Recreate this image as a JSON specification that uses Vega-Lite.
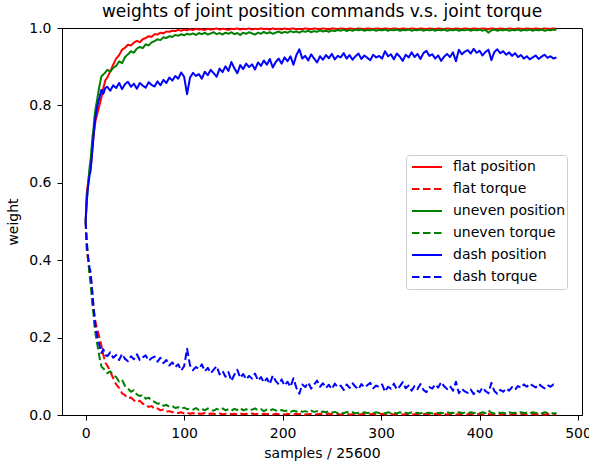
{
"$schema":"https://vega.github.io/schema/vega-lite/v6.json",
"autosize":{"type":"none"},
"width":520,"height":387,
"padding":{"left":62,"top":28,"right":7,"bottom":47},
"background":"white",
"title":{"text":"weights of joint position commands v.s. joint torque","font":"DejaVu Sans","fontSize":17,"fontWeight":"normal","color":"black","anchor":"middle","baseline":"bottom","offset":-17},
"config":{"view":{"stroke":"black","strokeWidth":1},"font":"DejaVu Sans"},
"data":{"values":[
{"x":0,"fp":0.50,"ft":0.50,"up":0.50,"ut":0.50,"dp":0.50,"dt":0.50},
{"x":1,"fp":0.57,"ft":0.43,"up":0.54,"ut":0.46,"dp":0.55,"dt":0.45},
{"x":2,"fp":0.59,"ft":0.41,"up":0.58,"ut":0.42,"dp":0.58,"dt":0.42},
{"x":3,"fp":0.61,"ft":0.39,"up":0.61,"ut":0.39,"dp":0.60,"dt":0.40},
{"x":4,"fp":0.63,"ft":0.37,"up":0.64,"ut":0.36,"dp":0.62,"dt":0.38},
{"x":5,"fp":0.64,"ft":0.36,"up":0.66,"ut":0.34,"dp":0.63,"dt":0.37},
{"x":6,"fp":0.66,"ft":0.34,"up":0.69,"ut":0.31,"dp":0.66,"dt":0.34},
{"x":7,"fp":0.69,"ft":0.31,"up":0.72,"ut":0.28,"dp":0.69,"dt":0.31},
{"x":8,"fp":0.72,"ft":0.28,"up":0.74,"ut":0.26,"dp":0.72,"dt":0.28},
{"x":9,"fp":0.74,"ft":0.26,"up":0.77,"ut":0.23,"dp":0.75,"dt":0.25},
{"x":10,"fp":0.76,"ft":0.24,"up":0.79,"ut":0.21,"dp":0.77,"dt":0.23},
{"x":12,"fp":0.78,"ft":0.22,"up":0.82,"ut":0.18,"dp":0.80,"dt":0.20},
{"x":14,"fp":0.80,"ft":0.20,"up":0.85,"ut":0.15,"dp":0.82,"dt":0.18},
{"x":16,"fp":0.82,"ft":0.18,"up":0.875,"ut":0.125,"dp":0.84,"dt":0.16},
{"x":18,"fp":0.845,"ft":0.155,"up":0.88,"ut":0.12,"dp":0.83,"dt":0.17},
{"x":20,"fp":0.865,"ft":0.135,"up":0.885,"ut":0.115,"dp":0.845,"dt":0.155},
{"x":22,"fp":0.872,"ft":0.128,"up":0.892,"ut":0.108,"dp":0.848,"dt":0.152},
{"x":25,"fp":0.888,"ft":0.112,"up":0.887,"ut":0.113,"dp":0.838,"dt":0.162},
{"x":28,"fp":0.905,"ft":0.095,"up":0.897,"ut":0.103,"dp":0.852,"dt":0.148},
{"x":31,"fp":0.921,"ft":0.079,"up":0.902,"ut":0.098,"dp":0.845,"dt":0.155},
{"x":34,"fp":0.93,"ft":0.07,"up":0.914,"ut":0.086,"dp":0.858,"dt":0.142},
{"x":37,"fp":0.944,"ft":0.056,"up":0.909,"ut":0.091,"dp":0.842,"dt":0.158},
{"x":40,"fp":0.949,"ft":0.051,"up":0.925,"ut":0.075,"dp":0.855,"dt":0.145},
{"x":43,"fp":0.957,"ft":0.043,"up":0.932,"ut":0.068,"dp":0.861,"dt":0.139},
{"x":46,"fp":0.955,"ft":0.045,"up":0.94,"ut":0.06,"dp":0.848,"dt":0.152},
{"x":49,"fp":0.962,"ft":0.038,"up":0.936,"ut":0.064,"dp":0.856,"dt":0.144},
{"x":52,"fp":0.967,"ft":0.033,"up":0.947,"ut":0.053,"dp":0.843,"dt":0.157},
{"x":55,"fp":0.963,"ft":0.037,"up":0.951,"ut":0.049,"dp":0.858,"dt":0.142},
{"x":58,"fp":0.971,"ft":0.029,"up":0.948,"ut":0.052,"dp":0.851,"dt":0.149},
{"x":61,"fp":0.974,"ft":0.026,"up":0.958,"ut":0.042,"dp":0.846,"dt":0.154},
{"x":64,"fp":0.979,"ft":0.021,"up":0.955,"ut":0.045,"dp":0.86,"dt":0.14},
{"x":67,"fp":0.977,"ft":0.023,"up":0.963,"ut":0.037,"dp":0.853,"dt":0.147},
{"x":70,"fp":0.984,"ft":0.016,"up":0.966,"ut":0.034,"dp":0.849,"dt":0.151},
{"x":73,"fp":0.983,"ft":0.017,"up":0.971,"ut":0.029,"dp":0.862,"dt":0.138},
{"x":76,"fp":0.988,"ft":0.012,"up":0.969,"ut":0.031,"dp":0.852,"dt":0.148},
{"x":79,"fp":0.986,"ft":0.014,"up":0.976,"ut":0.024,"dp":0.866,"dt":0.134},
{"x":82,"fp":0.991,"ft":0.009,"up":0.974,"ut":0.026,"dp":0.858,"dt":0.142},
{"x":85,"fp":0.99,"ft":0.01,"up":0.979,"ut":0.021,"dp":0.872,"dt":0.128},
{"x":88,"fp":0.993,"ft":0.007,"up":0.977,"ut":0.023,"dp":0.864,"dt":0.136},
{"x":91,"fp":0.992,"ft":0.008,"up":0.982,"ut":0.018,"dp":0.876,"dt":0.124},
{"x":94,"fp":0.995,"ft":0.005,"up":0.98,"ut":0.02,"dp":0.869,"dt":0.131},
{"x":97,"fp":0.993,"ft":0.007,"up":0.984,"ut":0.016,"dp":0.885,"dt":0.115},
{"x":100,"fp":0.996,"ft":0.004,"up":0.981,"ut":0.019,"dp":0.874,"dt":0.126},
{"x":103,"fp":0.994,"ft":0.006,"up":0.985,"ut":0.015,"dp":0.829,"dt":0.171},
{"x":106,"fp":0.997,"ft":0.003,"up":0.983,"ut":0.017,"dp":0.872,"dt":0.128},
{"x":109,"fp":0.995,"ft":0.005,"up":0.986,"ut":0.014,"dp":0.884,"dt":0.116},
{"x":112,"fp":0.998,"ft":0.002,"up":0.982,"ut":0.018,"dp":0.876,"dt":0.124},
{"x":115,"fp":0.996,"ft":0.004,"up":0.987,"ut":0.013,"dp":0.881,"dt":0.119},
{"x":118,"fp":0.997,"ft":0.003,"up":0.984,"ut":0.016,"dp":0.869,"dt":0.131},
{"x":121,"fp":0.995,"ft":0.005,"up":0.988,"ut":0.012,"dp":0.887,"dt":0.113},
{"x":124,"fp":0.998,"ft":0.002,"up":0.983,"ut":0.017,"dp":0.878,"dt":0.122},
{"x":127,"fp":0.996,"ft":0.004,"up":0.986,"ut":0.014,"dp":0.892,"dt":0.108},
{"x":130,"fp":0.997,"ft":0.003,"up":0.989,"ut":0.011,"dp":0.883,"dt":0.117},
{"x":133,"fp":0.999,"ft":0.001,"up":0.984,"ut":0.016,"dp":0.874,"dt":0.126},
{"x":136,"fp":0.996,"ft":0.004,"up":0.987,"ut":0.013,"dp":0.895,"dt":0.105},
{"x":139,"fp":0.998,"ft":0.002,"up":0.983,"ut":0.017,"dp":0.886,"dt":0.114},
{"x":142,"fp":0.997,"ft":0.003,"up":0.988,"ut":0.012,"dp":0.901,"dt":0.099},
{"x":145,"fp":0.995,"ft":0.005,"up":0.985,"ut":0.015,"dp":0.889,"dt":0.111},
{"x":148,"fp":0.998,"ft":0.002,"up":0.989,"ut":0.011,"dp":0.912,"dt":0.088},
{"x":151,"fp":0.997,"ft":0.003,"up":0.984,"ut":0.016,"dp":0.896,"dt":0.104},
{"x":154,"fp":0.999,"ft":0.001,"up":0.987,"ut":0.013,"dp":0.883,"dt":0.117},
{"x":157,"fp":0.996,"ft":0.004,"up":0.982,"ut":0.018,"dp":0.904,"dt":0.096},
{"x":160,"fp":0.998,"ft":0.002,"up":0.988,"ut":0.012,"dp":0.894,"dt":0.106},
{"x":163,"fp":0.997,"ft":0.003,"up":0.985,"ut":0.015,"dp":0.908,"dt":0.092},
{"x":166,"fp":0.999,"ft":0.001,"up":0.989,"ut":0.011,"dp":0.899,"dt":0.101},
{"x":169,"fp":0.996,"ft":0.004,"up":0.986,"ut":0.014,"dp":0.906,"dt":0.094},
{"x":172,"fp":0.998,"ft":0.002,"up":0.983,"ut":0.017,"dp":0.893,"dt":0.107},
{"x":175,"fp":0.997,"ft":0.003,"up":0.988,"ut":0.012,"dp":0.911,"dt":0.089},
{"x":178,"fp":0.999,"ft":0.001,"up":0.985,"ut":0.015,"dp":0.902,"dt":0.098},
{"x":181,"fp":0.997,"ft":0.003,"up":0.99,"ut":0.01,"dp":0.916,"dt":0.084},
{"x":184,"fp":0.998,"ft":0.002,"up":0.986,"ut":0.014,"dp":0.905,"dt":0.095},
{"x":187,"fp":0.996,"ft":0.004,"up":0.989,"ut":0.011,"dp":0.92,"dt":0.08},
{"x":190,"fp":0.999,"ft":0.001,"up":0.985,"ut":0.015,"dp":0.898,"dt":0.102},
{"x":193,"fp":0.997,"ft":0.003,"up":0.988,"ut":0.012,"dp":0.912,"dt":0.088},
{"x":196,"fp":0.998,"ft":0.002,"up":0.991,"ut":0.009,"dp":0.921,"dt":0.079},
{"x":199,"fp":0.996,"ft":0.004,"up":0.987,"ut":0.013,"dp":0.908,"dt":0.092},
{"x":202,"fp":0.999,"ft":0.001,"up":0.99,"ut":0.01,"dp":0.924,"dt":0.076},
{"x":205,"fp":0.997,"ft":0.003,"up":0.988,"ut":0.012,"dp":0.914,"dt":0.086},
{"x":208,"fp":0.998,"ft":0.002,"up":0.992,"ut":0.008,"dp":0.927,"dt":0.073},
{"x":211,"fp":0.999,"ft":0.001,"up":0.989,"ut":0.011,"dp":0.905,"dt":0.095},
{"x":214,"fp":0.997,"ft":0.003,"up":0.991,"ut":0.009,"dp":0.93,"dt":0.07},
{"x":217,"fp":0.998,"ft":0.002,"up":0.988,"ut":0.012,"dp":0.945,"dt":0.055},
{"x":220,"fp":0.996,"ft":0.004,"up":0.992,"ut":0.008,"dp":0.921,"dt":0.079},
{"x":223,"fp":0.999,"ft":0.001,"up":0.99,"ut":0.01,"dp":0.928,"dt":0.072},
{"x":226,"fp":0.998,"ft":0.002,"up":0.993,"ut":0.007,"dp":0.916,"dt":0.084},
{"x":229,"fp":0.997,"ft":0.003,"up":0.989,"ut":0.011,"dp":0.932,"dt":0.068},
{"x":232,"fp":0.999,"ft":0.001,"up":0.992,"ut":0.008,"dp":0.921,"dt":0.079},
{"x":235,"fp":0.998,"ft":0.002,"up":0.99,"ut":0.01,"dp":0.911,"dt":0.089},
{"x":238,"fp":0.997,"ft":0.003,"up":0.994,"ut":0.006,"dp":0.927,"dt":0.073},
{"x":241,"fp":0.999,"ft":0.001,"up":0.991,"ut":0.009,"dp":0.918,"dt":0.082},
{"x":244,"fp":0.998,"ft":0.002,"up":0.993,"ut":0.007,"dp":0.93,"dt":0.07},
{"x":247,"fp":0.996,"ft":0.004,"up":0.99,"ut":0.01,"dp":0.922,"dt":0.078},
{"x":250,"fp":0.999,"ft":0.001,"up":0.994,"ut":0.006,"dp":0.933,"dt":0.067},
{"x":253,"fp":0.998,"ft":0.002,"up":0.992,"ut":0.008,"dp":0.919,"dt":0.081},
{"x":256,"fp":0.997,"ft":0.003,"up":0.995,"ut":0.005,"dp":0.928,"dt":0.072},
{"x":259,"fp":0.999,"ft":0.001,"up":0.993,"ut":0.007,"dp":0.924,"dt":0.076},
{"x":262,"fp":0.998,"ft":0.002,"up":0.996,"ut":0.004,"dp":0.935,"dt":0.065},
{"x":265,"fp":0.997,"ft":0.003,"up":0.992,"ut":0.008,"dp":0.921,"dt":0.079},
{"x":268,"fp":0.999,"ft":0.001,"up":0.995,"ut":0.005,"dp":0.93,"dt":0.07},
{"x":271,"fp":0.998,"ft":0.002,"up":0.993,"ut":0.007,"dp":0.918,"dt":0.082},
{"x":274,"fp":0.997,"ft":0.003,"up":0.996,"ut":0.004,"dp":0.927,"dt":0.073},
{"x":277,"fp":0.999,"ft":0.001,"up":0.994,"ut":0.006,"dp":0.934,"dt":0.066},
{"x":280,"fp":0.998,"ft":0.002,"up":0.996,"ut":0.004,"dp":0.92,"dt":0.08},
{"x":283,"fp":0.997,"ft":0.003,"up":0.993,"ut":0.007,"dp":0.929,"dt":0.071},
{"x":286,"fp":0.999,"ft":0.001,"up":0.995,"ut":0.005,"dp":0.923,"dt":0.077},
{"x":289,"fp":0.998,"ft":0.002,"up":0.994,"ut":0.006,"dp":0.917,"dt":0.083},
{"x":292,"fp":0.997,"ft":0.003,"up":0.996,"ut":0.004,"dp":0.931,"dt":0.069},
{"x":295,"fp":0.999,"ft":0.001,"up":0.993,"ut":0.007,"dp":0.924,"dt":0.076},
{"x":298,"fp":0.998,"ft":0.002,"up":0.995,"ut":0.005,"dp":0.928,"dt":0.072},
{"x":301,"fp":0.997,"ft":0.003,"up":0.994,"ut":0.006,"dp":0.921,"dt":0.079},
{"x":304,"fp":0.999,"ft":0.001,"up":0.996,"ut":0.004,"dp":0.94,"dt":0.06},
{"x":307,"fp":0.998,"ft":0.002,"up":0.993,"ut":0.007,"dp":0.927,"dt":0.073},
{"x":310,"fp":0.997,"ft":0.003,"up":0.995,"ut":0.005,"dp":0.932,"dt":0.068},
{"x":313,"fp":0.999,"ft":0.001,"up":0.994,"ut":0.006,"dp":0.919,"dt":0.081},
{"x":316,"fp":0.998,"ft":0.002,"up":0.996,"ut":0.004,"dp":0.934,"dt":0.066},
{"x":319,"fp":0.997,"ft":0.003,"up":0.993,"ut":0.007,"dp":0.926,"dt":0.074},
{"x":322,"fp":0.999,"ft":0.001,"up":0.995,"ut":0.005,"dp":0.915,"dt":0.085},
{"x":325,"fp":0.998,"ft":0.002,"up":0.994,"ut":0.006,"dp":0.931,"dt":0.069},
{"x":328,"fp":0.997,"ft":0.003,"up":0.996,"ut":0.004,"dp":0.924,"dt":0.076},
{"x":331,"fp":0.999,"ft":0.001,"up":0.993,"ut":0.007,"dp":0.937,"dt":0.063},
{"x":334,"fp":0.998,"ft":0.002,"up":0.995,"ut":0.005,"dp":0.925,"dt":0.075},
{"x":337,"fp":0.997,"ft":0.003,"up":0.994,"ut":0.006,"dp":0.933,"dt":0.067},
{"x":340,"fp":0.999,"ft":0.001,"up":0.996,"ut":0.004,"dp":0.92,"dt":0.08},
{"x":343,"fp":0.998,"ft":0.002,"up":0.993,"ut":0.007,"dp":0.935,"dt":0.065},
{"x":346,"fp":0.997,"ft":0.003,"up":0.995,"ut":0.005,"dp":0.941,"dt":0.059},
{"x":349,"fp":0.999,"ft":0.001,"up":0.994,"ut":0.006,"dp":0.928,"dt":0.072},
{"x":352,"fp":0.998,"ft":0.002,"up":0.996,"ut":0.004,"dp":0.932,"dt":0.068},
{"x":355,"fp":0.997,"ft":0.003,"up":0.993,"ut":0.007,"dp":0.921,"dt":0.079},
{"x":358,"fp":0.999,"ft":0.001,"up":0.995,"ut":0.005,"dp":0.929,"dt":0.071},
{"x":361,"fp":0.998,"ft":0.002,"up":0.994,"ut":0.006,"dp":0.915,"dt":0.085},
{"x":364,"fp":0.997,"ft":0.003,"up":0.996,"ut":0.004,"dp":0.926,"dt":0.074},
{"x":367,"fp":0.999,"ft":0.001,"up":0.993,"ut":0.007,"dp":0.933,"dt":0.067},
{"x":370,"fp":0.998,"ft":0.002,"up":0.995,"ut":0.005,"dp":0.925,"dt":0.075},
{"x":373,"fp":0.997,"ft":0.003,"up":0.994,"ut":0.006,"dp":0.937,"dt":0.063},
{"x":376,"fp":0.999,"ft":0.001,"up":0.996,"ut":0.004,"dp":0.914,"dt":0.086},
{"x":379,"fp":0.998,"ft":0.002,"up":0.993,"ut":0.007,"dp":0.944,"dt":0.056},
{"x":382,"fp":0.997,"ft":0.003,"up":0.995,"ut":0.005,"dp":0.932,"dt":0.068},
{"x":385,"fp":0.999,"ft":0.001,"up":0.994,"ut":0.006,"dp":0.939,"dt":0.061},
{"x":388,"fp":0.998,"ft":0.002,"up":0.996,"ut":0.004,"dp":0.943,"dt":0.057},
{"x":391,"fp":0.997,"ft":0.003,"up":0.993,"ut":0.007,"dp":0.934,"dt":0.066},
{"x":394,"fp":0.999,"ft":0.001,"up":0.995,"ut":0.005,"dp":0.946,"dt":0.054},
{"x":397,"fp":0.998,"ft":0.002,"up":0.994,"ut":0.006,"dp":0.936,"dt":0.064},
{"x":400,"fp":0.997,"ft":0.003,"up":0.996,"ut":0.004,"dp":0.941,"dt":0.059},
{"x":403,"fp":0.999,"ft":0.001,"up":0.993,"ut":0.007,"dp":0.929,"dt":0.071},
{"x":406,"fp":0.998,"ft":0.002,"up":0.995,"ut":0.005,"dp":0.938,"dt":0.062},
{"x":409,"fp":0.997,"ft":0.003,"up":0.988,"ut":0.012,"dp":0.944,"dt":0.056},
{"x":412,"fp":0.999,"ft":0.001,"up":0.994,"ut":0.006,"dp":0.917,"dt":0.083},
{"x":415,"fp":0.998,"ft":0.002,"up":0.996,"ut":0.004,"dp":0.938,"dt":0.062},
{"x":418,"fp":0.997,"ft":0.003,"up":0.993,"ut":0.007,"dp":0.945,"dt":0.055},
{"x":421,"fp":0.999,"ft":0.001,"up":0.995,"ut":0.005,"dp":0.935,"dt":0.065},
{"x":424,"fp":0.998,"ft":0.002,"up":0.994,"ut":0.006,"dp":0.94,"dt":0.06},
{"x":427,"fp":0.997,"ft":0.003,"up":0.996,"ut":0.004,"dp":0.931,"dt":0.069},
{"x":430,"fp":0.999,"ft":0.001,"up":0.993,"ut":0.007,"dp":0.937,"dt":0.063},
{"x":433,"fp":0.998,"ft":0.002,"up":0.995,"ut":0.005,"dp":0.928,"dt":0.072},
{"x":436,"fp":0.997,"ft":0.003,"up":0.994,"ut":0.006,"dp":0.935,"dt":0.065},
{"x":439,"fp":0.999,"ft":0.001,"up":0.996,"ut":0.004,"dp":0.925,"dt":0.075},
{"x":442,"fp":0.998,"ft":0.002,"up":0.993,"ut":0.007,"dp":0.93,"dt":0.07},
{"x":445,"fp":0.997,"ft":0.003,"up":0.995,"ut":0.005,"dp":0.921,"dt":0.079},
{"x":448,"fp":0.999,"ft":0.001,"up":0.994,"ut":0.006,"dp":0.927,"dt":0.073},
{"x":451,"fp":0.998,"ft":0.002,"up":0.996,"ut":0.004,"dp":0.919,"dt":0.081},
{"x":454,"fp":0.997,"ft":0.003,"up":0.993,"ut":0.007,"dp":0.924,"dt":0.076},
{"x":457,"fp":0.999,"ft":0.001,"up":0.995,"ut":0.005,"dp":0.929,"dt":0.071},
{"x":460,"fp":0.998,"ft":0.002,"up":0.994,"ut":0.006,"dp":0.92,"dt":0.08},
{"x":463,"fp":0.997,"ft":0.003,"up":0.996,"ut":0.004,"dp":0.926,"dt":0.074},
{"x":466,"fp":0.999,"ft":0.001,"up":0.993,"ut":0.007,"dp":0.931,"dt":0.069},
{"x":469,"fp":0.998,"ft":0.002,"up":0.995,"ut":0.005,"dp":0.923,"dt":0.077},
{"x":472,"fp":0.997,"ft":0.003,"up":0.994,"ut":0.006,"dp":0.927,"dt":0.073},
{"x":475,"fp":0.999,"ft":0.001,"up":0.996,"ut":0.004,"dp":0.921,"dt":0.079},
{"x":478,"fp":0.998,"ft":0.002,"up":0.995,"ut":0.005,"dp":0.924,"dt":0.076}
]},
"transform":[{"fold":["fp","ft","up","ut","dp","dt"],"as":["series","weight"]}],
"mark":{"type":"line","strokeWidth":2,"strokeJoin":"round"},
"encoding":{
"x":{"field":"x","type":"quantitative","scale":{"domain":[-24,504],"nice":false,"zero":false},
"axis":{"title":"samples / 25600","values":[0,100,200,300,400,500],"grid":false,"domainColor":"black","tickColor":"black","tickSize":5,"labelFontSize":14,"labelColor":"black","labelPadding":6,"titleFontSize":14,"titleFontWeight":"normal","titleColor":"black","titlePadding":6,"labelFont":"DejaVu Sans","titleFont":"DejaVu Sans"}},
"y":{"field":"weight","type":"quantitative","scale":{"domain":[0,1],"nice":false},
"axis":{"title":"weight","values":[0,0.2,0.4,0.6,0.8,1.0],"format":".1f","grid":false,"domainColor":"black","tickColor":"black","tickSize":5,"labelFontSize":14,"labelColor":"black","labelPadding":6,"titleFontSize":14,"titleFontWeight":"normal","titleColor":"black","titlePadding":8,"labelFont":"DejaVu Sans","titleFont":"DejaVu Sans"}},
"color":{"field":"series","type":"nominal","sort":["fp","ft","up","ut","dp","dt"],
"scale":{"domain":["fp","ft","up","ut","dp","dt"],"range":["#ff0000","#ff0000","#008000","#008000","#0000ff","#0000ff"]},
"legend":{"title":null,"orient":"none","legendX":344,"legendY":127,"symbolType":"stroke","symbolSize":900,"symbolStrokeWidth":2,"symbolOffset":4,"labelFontSize":14,"labelFont":"DejaVu Sans","labelColor":"black","labelOffset":10,"clipHeight":22,"rowPadding":0,"padding":1,"fillColor":"white","strokeColor":"#cccccc","cornerRadius":3,
"labelExpr":"{'fp':'flat position','ft':'flat torque','up':'uneven position','ut':'uneven torque','dp':'dash position','dt':'dash torque'}[datum.label]"}},
"strokeDash":{"field":"series","type":"nominal","sort":["fp","ft","up","ut","dp","dt"],
"scale":{"domain":["fp","ft","up","ut","dp","dt"],"range":[[1,0],[7.5,3.5],[1,0],[7.5,3.5],[1,0],[7.5,3.5]]},
"legend":{"title":null,"orient":"none","legendX":344,"legendY":127,"symbolType":"stroke","symbolSize":900,"symbolStrokeWidth":2,"symbolOffset":4,"labelFontSize":14,"labelFont":"DejaVu Sans","labelColor":"black","labelOffset":10,"clipHeight":22,"rowPadding":0,"padding":1,"fillColor":"white","strokeColor":"#cccccc","cornerRadius":3,
"labelExpr":"{'fp':'flat position','ft':'flat torque','up':'uneven position','ut':'uneven torque','dp':'dash position','dt':'dash torque'}[datum.label]"}}
}
}
